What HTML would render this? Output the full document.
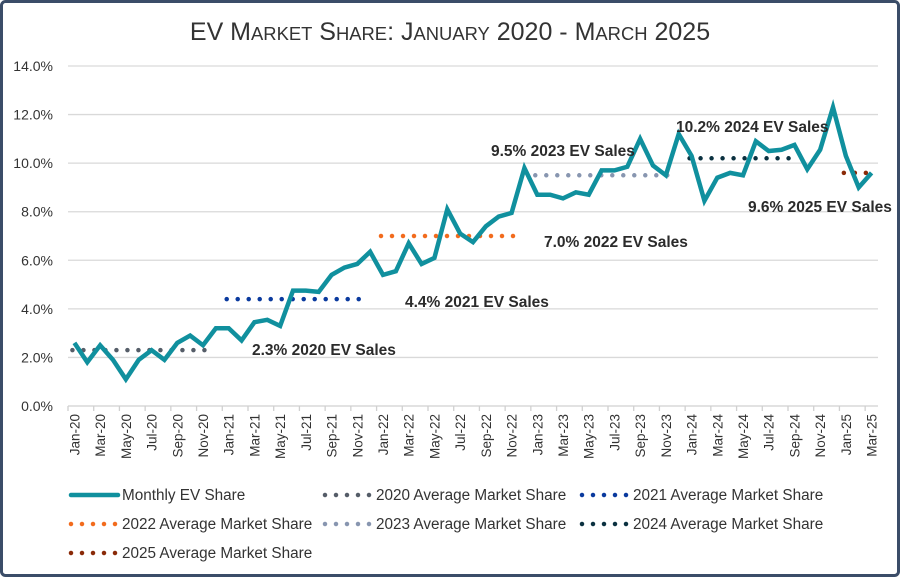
<!DOCTYPE html>
<html><head><meta charset="utf-8"><style>
body{margin:0;background:#fff;}
svg{display:block;font-family:"Liberation Sans",sans-serif;}
</style></head><body>
<svg id="chart" width="900" height="577" viewBox="0 0 900 577">
<rect x="1.5" y="1.5" width="897" height="574" rx="4" fill="#fff" stroke="#3b4d68" stroke-width="3"/>
<text x="450" y="40" text-anchor="middle" font-size="25" fill="#333">EV M<tspan font-size="18.4">ARKET</tspan> S<tspan font-size="18.4">HARE</tspan>: J<tspan font-size="18.4">ANUARY</tspan> 2020 - M<tspan font-size="18.4">ARCH</tspan> 2025</text>
<g id="grid"></g><g id="axes"></g><g id="avgs"></g><g id="series"></g><g id="labels"></g><g id="legend"></g>
</svg>
<script>
const categories=[];
const monthNames=["Jan","Feb","Mar","Apr","May","Jun","Jul","Aug","Sep","Oct","Nov","Dec"];
for(let y=20;y<=25;y++)for(let m=0;m<12;m++){if(y===25&&m>2)break;categories.push(monthNames[m]+"-"+y);}
const monthlyShare=[2.6,1.8,2.5,1.9,1.1,1.9,2.3,1.9,2.6,2.9,2.5,3.2,
3.2,2.7,3.45,3.55,3.3,4.75,4.75,4.7,5.4,5.7,5.85,6.35,
5.4,5.55,6.7,5.85,6.1,8.1,7.1,6.75,7.4,7.8,7.95,9.8,
8.7,8.7,8.55,8.8,8.7,9.7,9.7,9.85,11.0,9.9,9.5,11.2,
10.3,8.45,9.4,9.6,9.5,10.9,10.5,10.55,10.75,9.75,10.55,12.3,
10.3,9.0,9.6];
const avgYears=["2020","2021","2022","2023","2024","2025"];
const avgValues=[2.3,4.4,7.0,9.5,10.2,9.6];
const avgStart=["Jan-20","Jan-21","Jan-22","Jan-23","Jan-24","Jan-25"];
const avgEnd=["Nov-20","Nov-21","Nov-22","Nov-23","Sep-24","Mar-25"];
const avgColors=["#555d68","#0a3a9e","#f26b1d","#8896b0","#0b3140","#8a2a08"];
const yTicks=[0,2,4,6,8,10,12,14];
const NS="http://www.w3.org/2000/svg";
const X0=68,X1=878,Y0=406,Y1=66;
const step=(X1-X0)/categories.length;
const xs=i=>X0+step*(i+0.5);
const ys=v=>Y0-(v/14)*(Y0-Y1);
function mk(tag,attrs,parent){const e=document.createElementNS(NS,tag);for(const k in attrs)e.setAttribute(k,attrs[k]);parent.appendChild(e);return e;}
const grid=document.getElementById('grid');
yTicks.forEach(t=>{
 if(t>0){const l=mk('line',{x1:X0,x2:X1,y1:ys(t),y2:ys(t),stroke:'#d9d9d9','stroke-width':1.3},grid);
 
 }
 const tx=mk('text',{x:53,y:ys(t)+5,'text-anchor':'end','font-size':14,fill:'#333'},grid);
 tx.textContent=t.toFixed(1)+'%';
 
 
});
const axes=document.getElementById('axes');
const ax=mk('line',{x1:X0,x2:X1,y1:Y0,y2:Y0,stroke:'#d0d0d0','stroke-width':1.3},axes);


for(let i=0;i<=categories.length;i+=2){const tk=mk('line',{x1:X0+i*step,x2:X0+i*step,y1:Y0,y2:Y0+5,stroke:'#d0d0d0','stroke-width':1.3},axes);
 
 }
categories.forEach((c,i)=>{if(i%2)return;
 const t=mk('text',{transform:`translate(${xs(i)+5},${Y0+8}) rotate(-90)`,'text-anchor':'end','font-size':13.5,fill:'#333'},axes);
 t.textContent=c;
 
 });
const avgs=document.getElementById('avgs');
avgValues.forEach((v,k)=>{
 const a=categories.indexOf(avgStart[k]),b=categories.indexOf(avgEnd[k]);
 const l=mk('line',{x1:xs(a)-2,x2:xs(b)+2,y1:ys(v),y2:ys(v),stroke:avgColors[k],'stroke-width':4.5,'stroke-linecap':'round','stroke-dasharray':'0 11'},avgs);
 
 
});
const series=document.getElementById('series');
const p=mk('polyline',{points:monthlyShare.map((v,i)=>xs(i)+','+ys(v)).join(' '),fill:'none',stroke:'#10909e','stroke-width':4.5,'stroke-linejoin':'miter'},series);


const lab=document.getElementById('labels');
const labelPos=[[252,355],[405,307],[544,247],[491,156],[676,132],[748,212]];
avgValues.forEach((v,k)=>{const t=mk('text',{x:labelPos[k][0],y:labelPos[k][1],'font-size':15.5,'font-weight':'bold',fill:'#2b2b2b'},lab);
 t.textContent=v.toFixed(1)+'% '+avgYears[k]+' EV Sales';
 
 });
const leg=document.getElementById('legend');
const items=[["Monthly EV Share",null,70,495],["2020 Average Market Share",0,324,495],["2021 Average Market Share",1,581,495],
["2022 Average Market Share",2,70,524],["2023 Average Market Share",3,324,524],["2024 Average Market Share",4,581,524],
["2025 Average Market Share",5,70,553]];
items.forEach(it=>{
 const g=mk('g',{},leg);
 
 
 if(it[1]===null)mk('line',{x1:it[2]+1,x2:it[2]+48,y1:it[3],y2:it[3],stroke:'#10909e','stroke-width':4.5,'stroke-linecap':'round'},g);
 else mk('line',{x1:it[2]+1,x2:it[2]+46,y1:it[3],y2:it[3],stroke:avgColors[it[1]],'stroke-width':4.5,'stroke-linecap':'round','stroke-dasharray':'0 11'},g);
 const t=mk('text',{x:it[2]+52,y:it[3]+5,'font-size':15.3,fill:'#333'},g);t.textContent=it[0];
});
</script>
</body></html>
